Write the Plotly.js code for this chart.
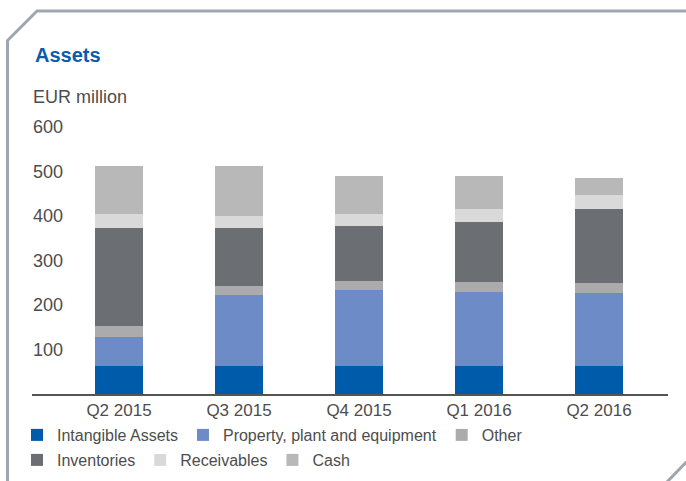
<!DOCTYPE html>
<html>
<head>
<meta charset="utf-8">
<script src="https://cdn.plot.ly/plotly-3.0.1.min.js"></script>
<style>
  html, body { margin: 0; padding: 0; background: #fff; }
  #chart { width: 686px; height: 481px; }
</style>
</head>
<body>
<div id="chart"></div>
<script>
// ---- data ----
const quarters = ['Q2 2015', 'Q3 2015', 'Q4 2015', 'Q1 2016', 'Q2 2016'];
const intangibleAssets = [63, 63, 63, 63, 63];
const propertyPlantEquipment = [65, 159, 170, 166, 164];
const other = [25, 20, 20, 22, 22];
const inventories = [220, 130, 124, 135, 167];
const receivables = [31, 29, 27, 29, 31];
const cash = [108, 112, 87, 76, 38];
const yTickValues = [100, 200, 300, 400, 500, 600];

// ---- styling ----
const FONT = '"Liberation Sans", Arial, sans-serif';
const TEXT = '#4d4d4d';
const M = { l: 32, r: 18, t: 105, b: 87, autoexpand: false };
const W = 686, H = 481;
const PW = W - M.l - M.r, PH = H - M.t - M.b;
const PX_PER_UNIT = (394 - 127) / 600;
const Y_TOP = PH / PX_PER_UNIT;
const px = x => (x - M.l) / PW;
const py = y => (H - M.b - y) / PH;

const series = [
  { name: 'Intangible Assets', y: intangibleAssets, color: '#005BAA', legend: 'legend' },
  { name: 'Property, plant and equipment', y: propertyPlantEquipment, color: '#6C8BC7', legend: 'legend' },
  { name: 'Other', y: other, color: '#ABABAB', legend: 'legend' },
  { name: 'Inventories', y: inventories, color: '#6B6E73', legend: 'legend2' },
  { name: 'Receivables', y: receivables, color: '#D9D9D9', legend: 'legend2' },
  { name: 'Cash', y: cash, color: '#B8B8B9', legend: 'legend2' }
];

const traces = series.map(s => ({
  type: 'bar',
  name: s.name,
  x: quarters,
  y: s.y,
  width: 0.4,
  marker: { color: s.color, line: { width: 0 } },
  legend: s.legend,
  hoverinfo: 'skip'
}));

const legendCommon = {
  orientation: 'h',
  xanchor: 'left',
  yanchor: 'top',
  font: { family: FONT, size: 16, color: TEXT },
  bgcolor: 'rgba(0,0,0,0)',
  borderwidth: 0,
  traceorder: 'normal',
  itemwidth: 30,
  itemclick: false,
  itemdoubleclick: false
};

const frame = 'M' + px(700) + ',' + py(11) +
  ' L' + px(37) + ',' + py(11) +
  ' L' + px(7.5) + ',' + py(40.5) +
  ' L' + px(7.5) + ',' + py(500);
const corner = 'M' + px(700) + ',' + py(448) + ' L' + px(665) + ',' + py(484);

const layout = {
  width: W, height: H,
  margin: M,
  paper_bgcolor: '#fff',
  plot_bgcolor: 'rgba(0,0,0,0)',
  barmode: 'stack',
  showlegend: true,
  font: { family: FONT, color: TEXT },
  title: {
    text: '<b>Assets</b>',
    font: { family: FONT, size: 20, color: '#0A5CAB' },
    x: 35 / W, xanchor: 'left', xref: 'container',
    y: 1 - 55 / H, yanchor: 'middle', yref: 'container'
  },
  xaxis: {
    type: 'category',
    range: [-0.725, 4.575],
    showline: true, linecolor: '#555', linewidth: 2,
    showgrid: false, zeroline: false, ticks: '',
    tickfont: { family: FONT, size: 17, color: TEXT },
    fixedrange: true
  },
  yaxis: {
    range: [0, Y_TOP],
    tickvals: yTickValues,
    ticktext: yTickValues.map(String),
    ticklabelposition: 'inside',
    ticklabelstandoff: -2,
    showline: false, showgrid: false, zeroline: false, ticks: '',
    tickfont: { family: FONT, size: 18, color: TEXT },
    fixedrange: true
  },
  legend: Object.assign({}, legendCommon, { x: px(17), y: py(418) }),
  legend2: Object.assign({}, legendCommon, { x: px(17), y: py(443) }),
  annotations: [{
    text: 'EUR million',
    xref: 'paper', yref: 'paper',
    x: px(31), y: py(97),
    xanchor: 'left', yanchor: 'middle',
    showarrow: false,
    font: { family: FONT, size: 18, color: TEXT }
  }],
  shapes: [
    { type: 'path', xref: 'paper', yref: 'paper', path: frame, line: { color: '#9EA7B1', width: 3 } },
    { type: 'path', xref: 'paper', yref: 'paper', path: corner, line: { color: '#9EA7B1', width: 3 } }
  ]
};

Plotly.newPlot('chart', traces, layout, { displayModeBar: false, staticPlot: true });
</script>
</body>
</html>
